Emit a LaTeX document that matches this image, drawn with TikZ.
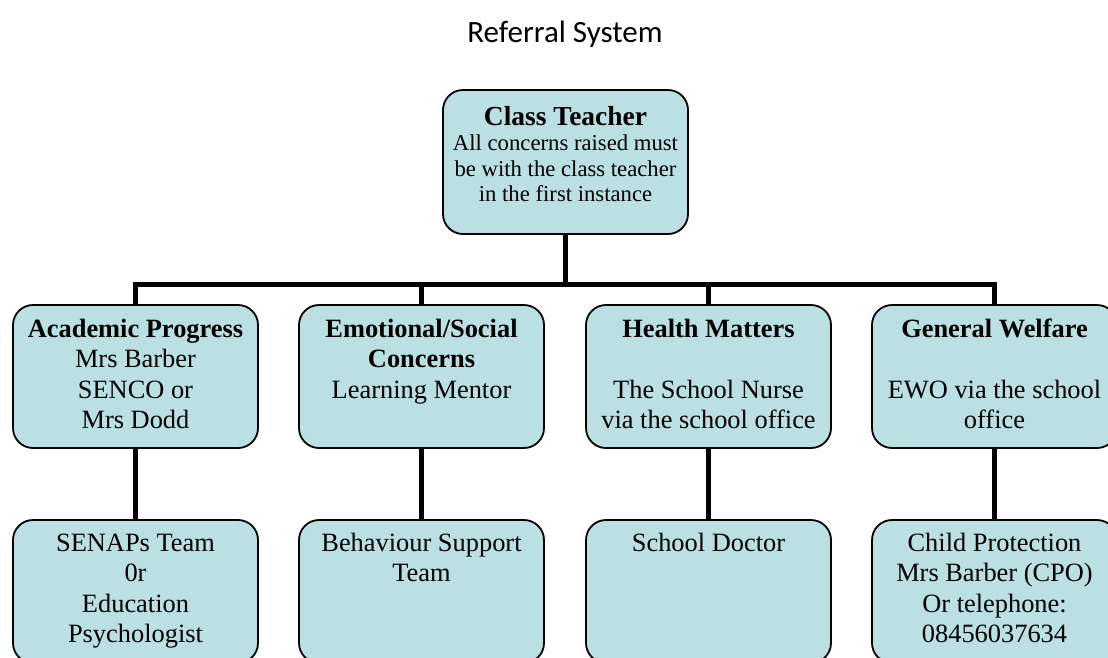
\documentclass[tikz,border=0pt]{standalone}
\usepackage{fontspec}
\setmainfont{Liberation Serif}
\newfontfamily\titlefont{Carlito}
\usetikzlibrary{backgrounds}
\definecolor{boxfill}{RGB}{186,224,227}
\newcommand{\lvtwo}{\fontsize{26.4}{30.5}\selectfont}
\newcommand{\bodyfont}{\fontsize{22.7}{25.5}\selectfont}
\tikzset{
  box/.style={draw=black, fill=boxfill, line width=1.8pt, rounded corners=20pt, inner sep=0pt, outer sep=0pt},
  conn/.style={draw=black, line width=5.5pt},
  titlestyle/.style={font=\titlefont\fontsize{31}{36}\selectfont, inner sep=0pt, anchor=base}
}
\begin{document}
\begin{tikzpicture}[x=1pt,y=-1pt]
\useasboundingbox (0,0) rectangle (1108,657);
\clip (0,0) rectangle (1108,657);

\node[titlestyle] (title) at (565,42) {Referral System};
\coordinate (rl) at (463,89);
\coordinate (rr) at (667,89);
\draw[gray!35, line width=1pt] (rl) -- (rr);

% top box
\node[box] (ct) at (565.5,162) {\parbox[c][144pt][t]{245pt}{\centering\rule{0pt}{35pt}\fontsize{27.5}{25.5}\selectfont\textbf{Class Teacher}\\\bodyfont All concerns raised must\\be with the class teacher\\in the first instance\par}};

% level 2
\node[box] (ap) at (135.5,376.5) {\parbox[c][143pt][t]{245pt}{\centering\lvtwo\rule{0pt}{32pt}\textbf{Academic Progress}\\Mrs Barber\\SENCO or\\Mrs Dodd\par}};
\node[box] (es) at (421.5,376.5) {\parbox[c][143pt][t]{245pt}{\centering\lvtwo\rule{0pt}{32pt}\textbf{Emotional/Social}\\\textbf{Concerns}\\Learning Mentor\par}};
\node[box] (hm) at (708.5,376.5) {\parbox[c][143pt][t]{245pt}{\centering\lvtwo\rule{0pt}{32pt}\textbf{Health Matters}\\[30.5pt]The School Nurse\\via the school office\par}};
\node[box] (gw) at (994.5,376.5) {\parbox[c][143pt][t]{245pt}{\centering\lvtwo\rule{0pt}{32pt}\textbf{General Welfare}\\[30.5pt]EWO via the school\\office\par}};

% level 3
\node[box] (sen) at (135.5,591.5) {\parbox[c][143pt][t]{245pt}{\centering\lvtwo\rule{0pt}{31pt}SENAPs Team\\0r\\Education\\Psychologist\par}};
\node[box] (bst) at (421.5,591.5) {\parbox[c][143pt][t]{245pt}{\centering\lvtwo\rule{0pt}{31pt}Behaviour Support\\Team\par}};
\node[box] (sd) at (708.5,591.5) {\parbox[c][143pt][t]{245pt}{\centering\lvtwo\rule{0pt}{31pt}School Doctor\par}};
\node[box] (cp) at (994.5,591.5) {\parbox[c][143pt][t]{245pt}{\centering\lvtwo\rule{0pt}{31pt}Child Protection\\Mrs Barber (CPO)\\Or telephone:\\08456037634\par}};

\coordinate (bar) at (565.5,284.5);

\begin{scope}[on background layer]
\draw[conn] (ct.south) -- (bar);
\draw[conn] (ap.north) |- (bar) -| (gw.north);
\draw[conn] (es.north) -- (es.north |- bar);
\draw[conn] (hm.north) -- (hm.north |- bar);
\draw[conn] (ap.south) -- (sen.north);
\draw[conn] (es.south) -- (bst.north);
\draw[conn] (hm.south) -- (sd.north);
\draw[conn] (gw.south) -- (cp.north);
\end{scope}
\end{tikzpicture}
\end{document}
